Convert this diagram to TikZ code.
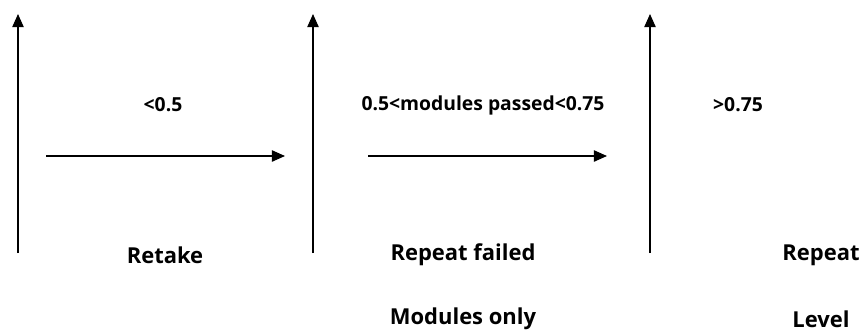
\documentclass[tikz,border=0pt]{standalone}
\usepackage{fontspec}
\setmainfont{Open Sans}
\usetikzlibrary{positioning, arrows.meta}

\begin{document}
\begin{tikzpicture}[
        axis/.style={line width=0.75pt, -{Triangle[length=7.5pt, width=6.5pt]}},
        cond/.style={font=\fontsize{11}{13}\selectfont\bfseries, inner sep=1pt},
        verdict/.style={font=\fontsize{12.5}{14}\selectfont\bfseries, inner sep=1pt},
        node distance=1.28cm
      ]
        \useasboundingbox (0,0) rectangle (17.26,6.66);
        % the three boundaries
        \coordinate (b1) at (0.36,1.6);  \coordinate (t1) at (0.36,6.38);
        \coordinate (b2) at (6.26,1.6);  \coordinate (t2) at (6.26,6.38);
        \coordinate (b3) at (13.0,1.6);  \coordinate (t3) at (13.0,6.38);
        \draw[axis] (b1) -- (t1);
        \draw[axis] (b2) -- (t2);
        \draw[axis] (b3) -- (t3);
        % horizontal arrows
        \coordinate (s1) at (0.92,3.54); \coordinate (e1) at (5.70,3.54);
        \coordinate (s2) at (7.36,3.54); \coordinate (e2) at (12.14,3.54);
        \draw[axis] (s1) -- (e1);
        \draw[axis] (s2) -- (e2);
        % thresholds
        \node[cond] (low) at (3.26,4.56) {<0.5};
        \node[cond] (mid) at (9.66,4.56) {0.5<modules passed<0.75};
        \node[cond] (high) at (14.76,4.56) {>0.75};
        % outcomes
        \node[verdict] (retake) at (3.3,1.56) {Retake};
        \node[verdict] (repfail) at (9.26,1.56) {Repeat failed};
        \node[verdict, below=of repfail.center, anchor=center] (modonly) {Modules only};
        \node[verdict] (replevel) at (16.42,1.56) {Repeat};
        \node[verdict, below=of replevel.center, anchor=center] (level) {Level};
      \end{tikzpicture}
\end{document}
